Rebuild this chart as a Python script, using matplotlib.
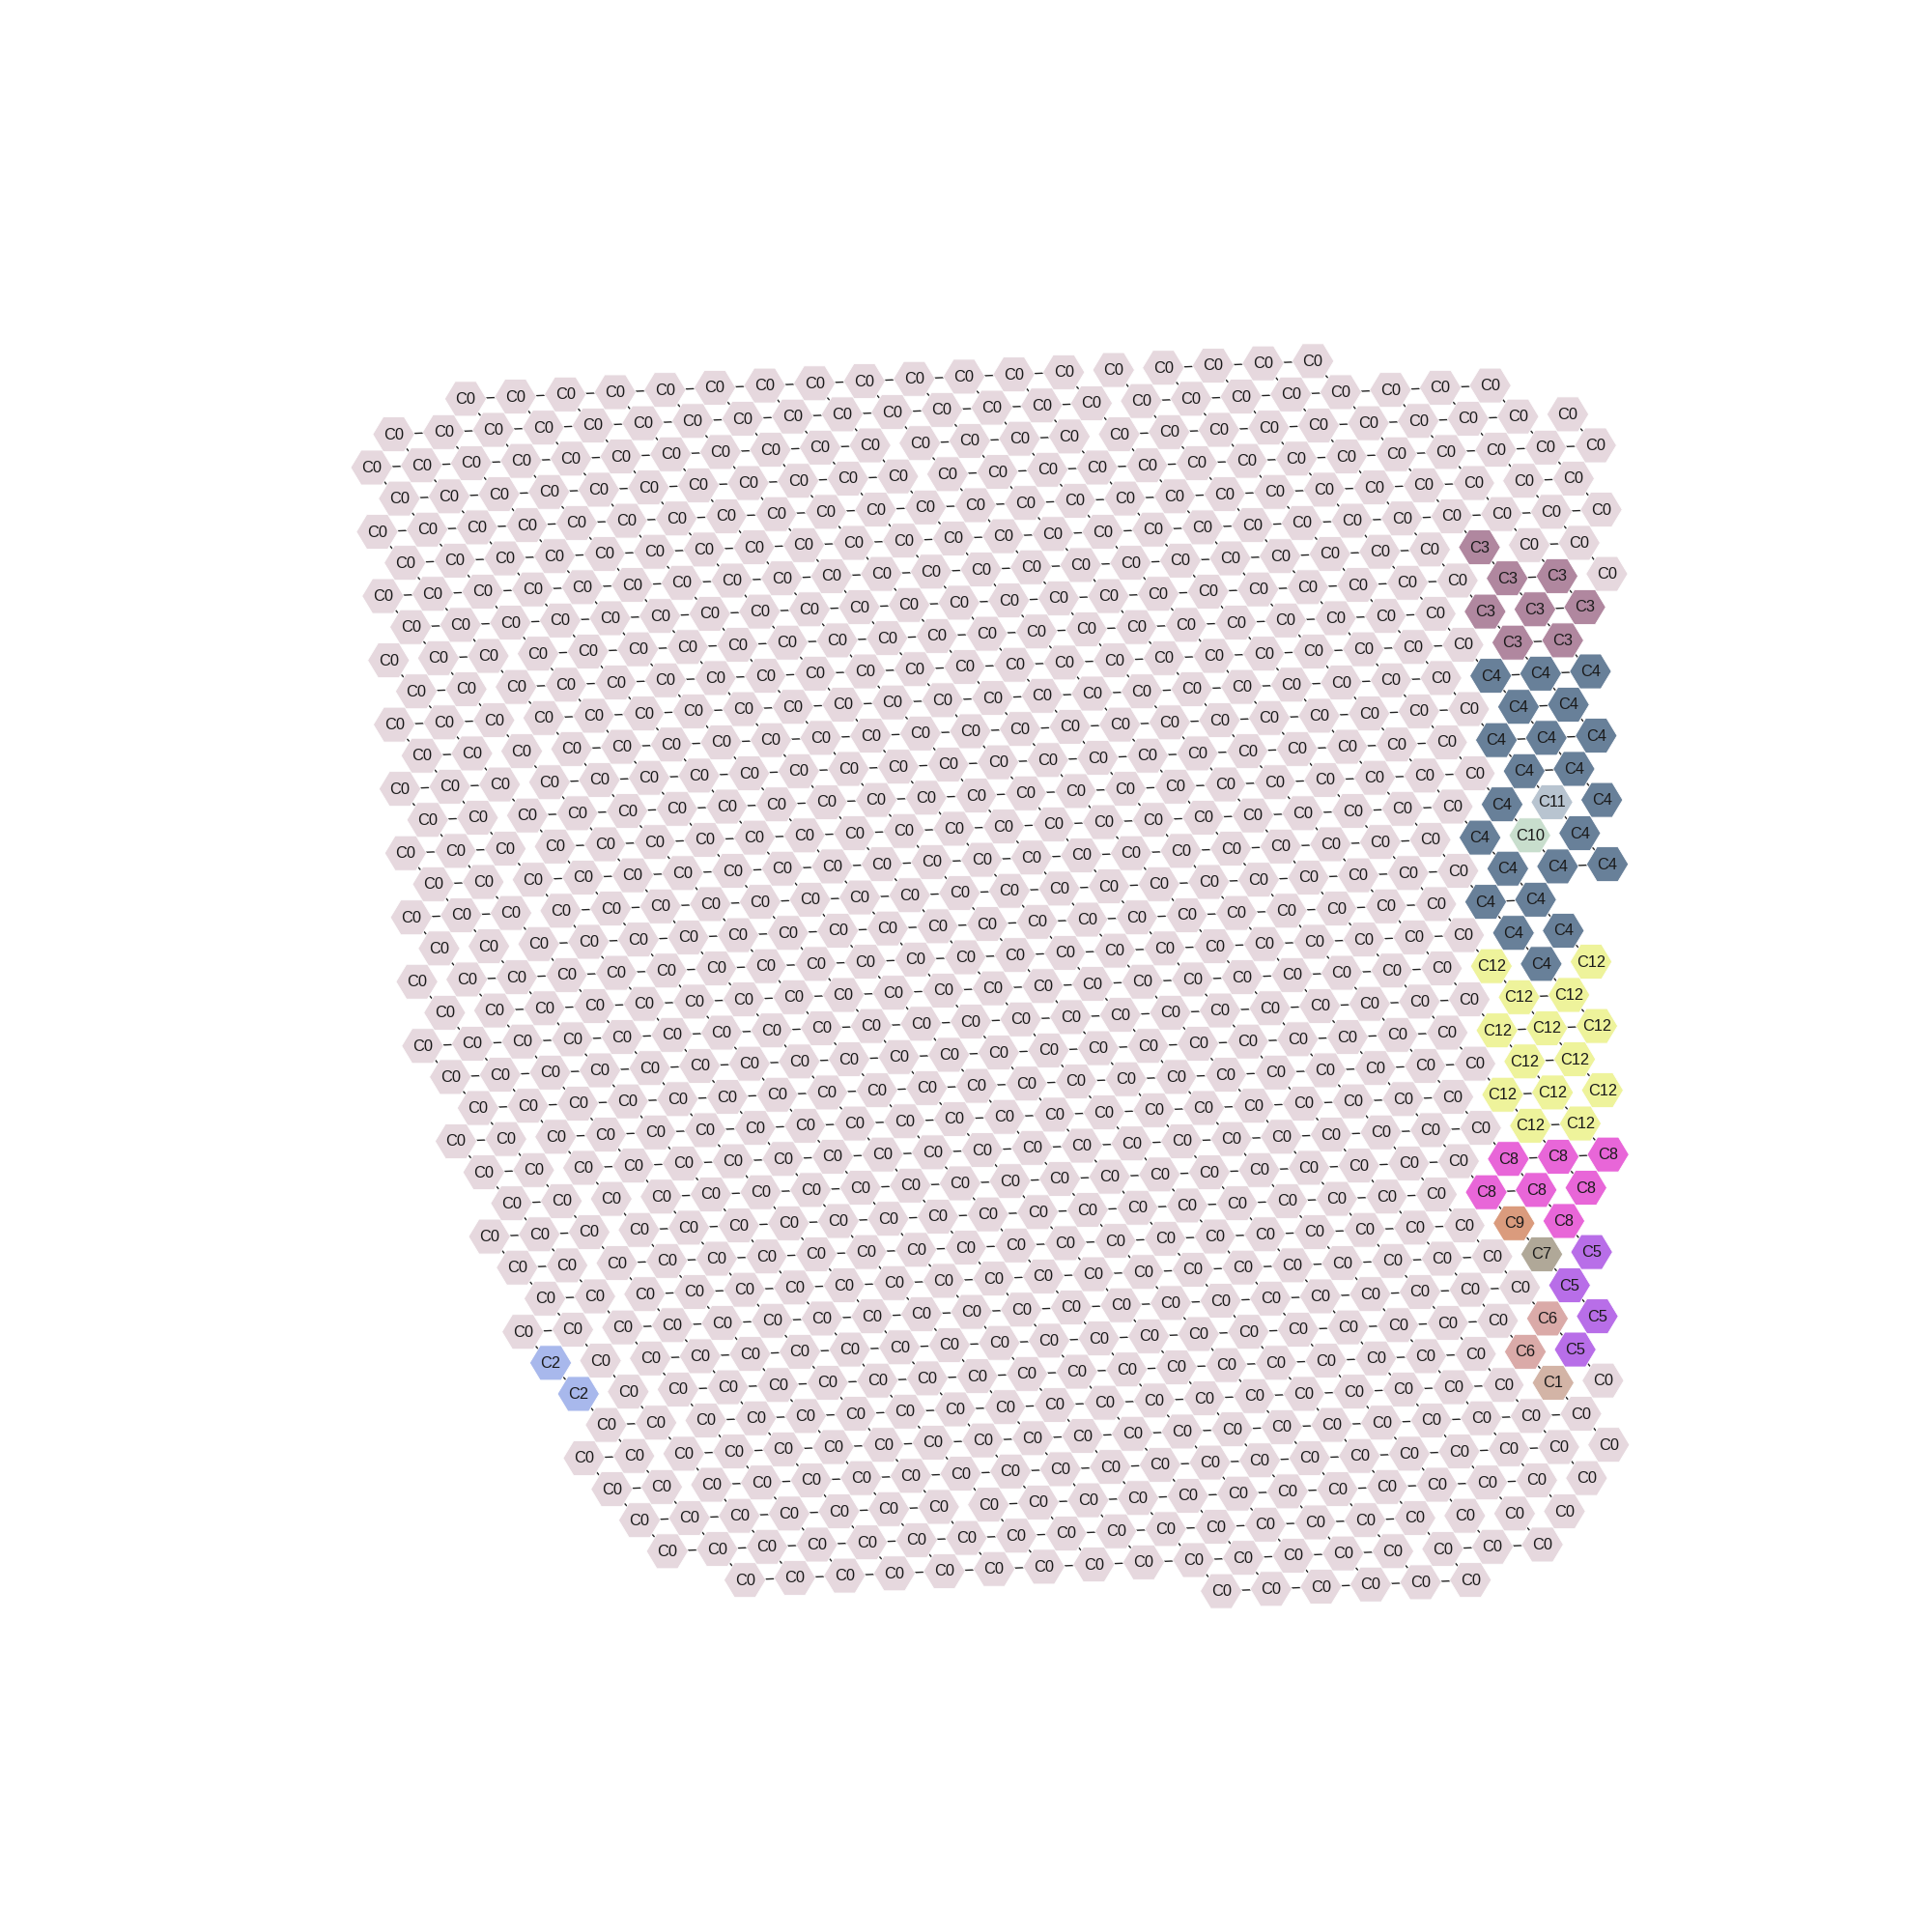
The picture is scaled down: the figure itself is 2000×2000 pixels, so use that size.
import numpy as np
import matplotlib.pyplot as plt
from matplotlib.collections import PolyCollection, LineCollection

# spot grid: first / last column of each row (odd rows sit half a column over)
row_first = [2, 0.5, 0, 0.5, 0, 0.5, 0, 0.5, 0, 0.5,
             0, 0.5, 0, 0.5, 0, 0.5, 0, 0.5, 0, 0.5,
             0, 0.5, 1, 0.5, 1, 1.5, 1, 1.5, 2, 1.5,
             2, 2.5, 3, 2.5, 3, 3.5, 4, 5.5, 15]
row_last = [19, 22.5, 24, 24.5, 24, 24.5, 24, 24.5, 24, 23.5,
            24, 23.5, 24, 23.5, 24, 23.5, 24, 22.5, 23, 23.5,
            23, 23.5, 23, 23.5, 23, 23.5, 23, 22.5, 23, 22.5,
            23, 22.5, 23, 22.5, 23, 22.5, 22, 21.5, 20]

# spots not in C0, as (row, col)
c1_spots = [(32, 22)]
c2_spots = [(30, 2), (31, 2.5)]
c3_spots = [(6, 22), (7, 22.5), (7, 23.5), (8, 22), (8, 23), (8, 24), (9, 22.5), (9, 23.5)]
c4_spots = [(10, 22), (10, 23), (10, 24), (11, 22.5), (11, 23.5), (12, 22), (12, 23), (12, 24),
            (13, 22.5), (13, 23.5), (14, 22), (14, 24), (15, 21.5), (15, 23.5), (16, 22),
            (16, 23), (16, 24), (17, 21.5), (17, 22.5), (18, 22), (18, 23), (19, 22.5)]
c5_spots = [(28, 23), (29, 22.5), (30, 23), (31, 22.5)]
c6_spots = [(30, 22), (31, 21.5)]
c7_spots = [(28, 22)]
c8_spots = [(25, 21.5), (25, 22.5), (25, 23.5), (26, 21), (26, 22), (26, 23), (27, 22.5)]
c9_spots = [(27, 21.5)]
c10_spots = [(15, 22.5)]
c11_spots = [(14, 23)]
c12_spots = [(19, 21.5), (19, 23.5), (20, 22), (20, 23), (21, 21.5), (21, 22.5), (21, 23.5),
             (22, 22), (22, 23), (23, 21.5), (23, 22.5), (23, 23.5), (24, 22), (24, 23)]

# horizontal neighbour pairs that are not linked: (row, left col)
missing_links = [
    (0, 14), (0, 15), (1, 14.5), (2, 10), (2, 14), (2, 23), (3, 10.5), (4, 22),
    (6, 21), (6, 22), (7, 21.5), (7, 23.5), (8, 0), (8, 2), (8, 21), (8, 22),
    (9, 1.5), (9, 21.5), (10, 2), (10, 21), (11, 1.5), (11, 2.5), (11, 21.5),
    (12, 2), (12, 21), (13, 1.5), (13, 21.5), (14, 2), (14, 21), (14, 22), (14, 23),
    (15, 1.5), (15, 20.5), (15, 21.5), (15, 22.5), (16, 2), (16, 21), (16, 22),
    (17, 0.5), (17, 1.5), (17, 20.5), (18, 0), (18, 21), (18, 22),
    (19, 0.5), (19, 20.5), (19, 21.5), (19, 22.5), (20, 21), (21, 20.5), (22, 21),
    (23, 1.5), (23, 20.5), (23, 22.5), (24, 2), (24, 21), (25, 2.5), (25, 3.5), (25, 20.5),
    (26, 3), (26, 20), (26, 22), (27, 2.5), (27, 20.5), (27, 21.5), (28, 3), (28, 21), (28, 22),
    (29, 2.5), (29, 21.5), (30, 2), (30, 3), (30, 21), (30, 22),
    (31, 2.5), (31, 3.5), (31, 20.5), (31, 21.5), (32, 4), (32, 21), (32, 22),
    (33, 3.5), (34, 4), (34, 22), (35, 9.5), (35, 21.5), (36, 19), (36, 20), (36, 21), (37, 18.5),
]

cluster_colors = {
    'C0': '#E6D8DE', 'C1': '#D3B4A6', 'C2': '#A8B8EC', 'C3': '#B0879F',
    'C4': '#688099', 'C5': '#B86EE8', 'C6': '#DAAAA8', 'C7': '#B0A898',
    'C8': '#E866D8', 'C9': '#DA9B7D', 'C10': '#C8DECD', 'C11': '#B8C4D0',
    'C12': '#EEF39B',
}

labels = {}
for name, spots in [('C1', c1_spots), ('C2', c2_spots), ('C3', c3_spots), ('C4', c4_spots),
                    ('C5', c5_spots), ('C6', c6_spots), ('C7', c7_spots), ('C8', c8_spots),
                    ('C9', c9_spots), ('C10', c10_spots), ('C11', c11_spots), ('C12', c12_spots)]:
    for s in spots:
        labels[s] = name

spots = []
for r, (a, b) in enumerate(zip(row_first, row_last)):
    for c in np.arange(a, b + 0.5, 1.0):
        spots.append((r, float(c)))
spot_set = set(spots)
missing = set((r, float(c)) for r, c in missing_links)

# array coords -> slightly rotated tissue layout
S = 2000 / 1568
def to_xy(r, c):
    x = (297.0 + 40.45 * c + 2.3 * r) * S
    y = (327.3 + 26.08 * r - 1.8 * c) * S
    return x, y

# neighbour graph
edges = []
for r, c in spots:
    if (r, c + 1) in spot_set and (r, c) not in missing:
        edges.append([to_xy(r, c), to_xy(r, c + 1)])
    for nb in [(r + 1, c - 0.5), (r + 1, c + 0.5)]:
        if nb in spot_set:
            edges.append([to_xy(r, c), to_xy(*nb)])

hw, hh = 21.7, 18.0
hexagon = np.array([(hw, 0), (hw / 2, hh), (-hw / 2, hh), (-hw, 0), (-hw / 2, -hh), (hw / 2, -hh)])

fig = plt.figure(figsize=(10, 10), dpi=200)
ax = fig.add_axes([0, 0, 1, 1])

ax.add_collection(LineCollection(edges, colors='#222222', linewidths=0.5, zorder=1))

verts, faces = [], []
for s in spots:
    x, y = to_xy(*s)
    verts.append(hexagon + [x, y])
    faces.append(cluster_colors[labels.get(s, 'C0')])
ax.add_collection(PolyCollection(verts, facecolors=faces, edgecolors='white',
                                 linewidths=0.3, zorder=2))

for s in spots:
    x, y = to_xy(*s)
    ax.text(x, y + 0.5, labels.get(s, 'C0'), ha='center', va='center', fontsize=5.9,
            family=['Liberation Sans', 'DejaVu Sans'], color='#1a1a1a', zorder=3)

ax.set_xlim(0, 2000)
ax.set_ylim(2000, 0)
ax.axis('off')
fig.savefig('out.png', dpi=200, facecolor='white')
